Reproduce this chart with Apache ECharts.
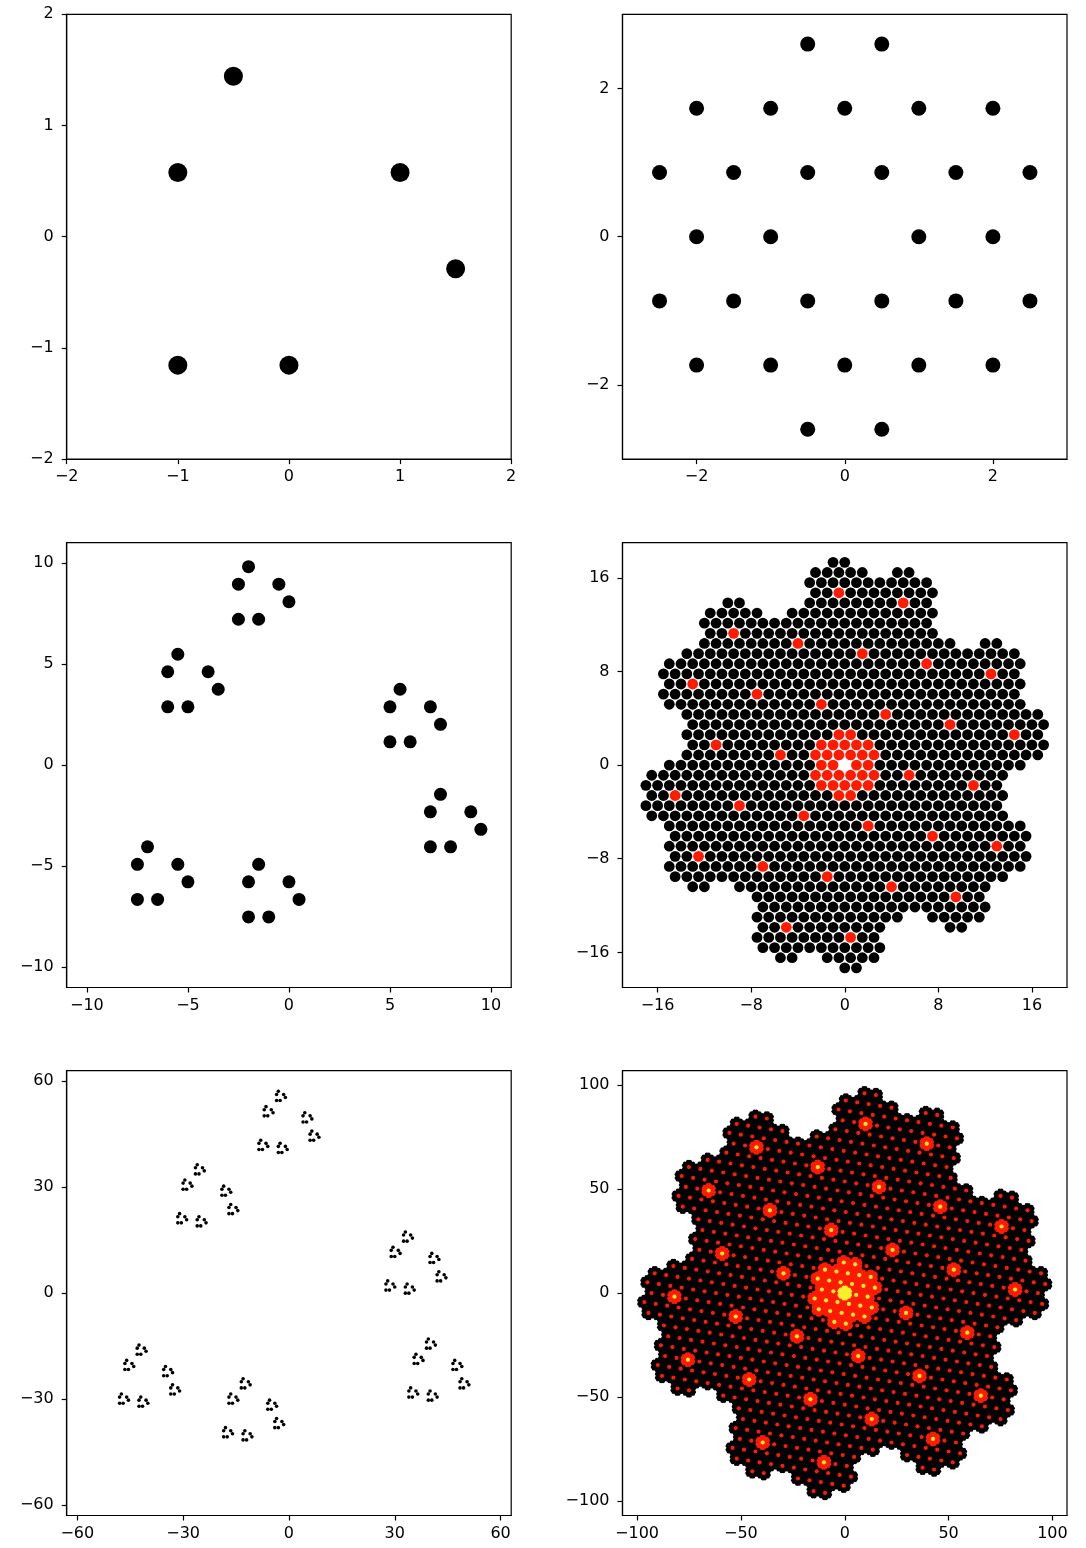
<!DOCTYPE html>
<html>
<head>
<meta charset="utf-8">
<script src="https://cdn.jsdelivr.net/npm/echarts@6/dist/echarts.min.js"></script>
<style>
html,body{margin:0;padding:0;background:#fff;}
#chart{width:1086px;height:1548px;}
</style>
</head>
<body>
<div id="chart"></div>
<script>
// Base pattern
const baseX = [-0.5, -1, 1, 1.5, -1, 0];
const baseY = [1.443, 0.577, 0.577, -0.289, -1.155, -1.155];
// Scale/rotation step between levels, read from cluster offsets (re, im)
const stepFactor = [5.5, -0.866];

// Tick labels per panel
const ticks1 = [-2, -1, 0, 1, 2];
const ticks2 = [-2, 0, 2];
const ticks3 = [-10, -5, 0, 5, 10];
const ticks4 = [-16, -8, 0, 8, 16];
const ticks5 = [-60, -30, 0, 30, 60];
const ticks6 = [-100, -50, 0, 50, 100];
// Axis half-ranges per panel
const halfRanges = [2, 3, 11, 19, 63, 107];

// multiplicity colours
const countColors = {1: '#000000', 6: '#ff1a00', 36: '#f5f028'};

function cmul(a, b) { return [a[0]*b[0] - a[1]*b[1], a[0]*b[1] + a[1]*b[0]]; }
const base = baseX.map((x, i) => [x, baseY[i]]);
function nextLevel(pts, level) {
  let f = [1, 0];
  for (let i = 0; i < level; i++) f = cmul(f, stepFactor);
  const out = [];
  base.forEach(d => {
    const o = cmul(f, d);
    pts.forEach(p => out.push([p[0] + o[0], p[1] + o[1]]));
  });
  return out;
}
const level1 = base.slice();
const level2 = nextLevel(level1, 1);
const level3 = nextLevel(level2, 2);

function differences(pts) {
  const map = new Map();
  for (let i = 0; i < pts.length; i++) {
    for (let j = 0; j < pts.length; j++) {
      if (i === j) continue;
      const dx = pts[i][0] - pts[j][0], dy = pts[i][1] - pts[j][1];
      const key = Math.round(dx * 2) + '_' + Math.round(dy / 0.433);
      let e = map.get(key);
      if (!e) { e = {x: dx, y: dy, c: 0}; map.set(key, e); }
      e.c++;
    }
  }
  const groups = {};
  map.forEach(e => {
    const c = e.c >= 36 ? 36 : (e.c >= 6 ? 6 : 1);
    (groups[c] = groups[c] || []).push([e.x, e.y]);
  });
  return groups;
}
const diff1 = differences(level1);
const diff2 = differences(level2);
const diff3 = differences(level3);

const colLeft = [66.7, 622.5];
const rowTop = [14.3, 542.7, 1070.7];
const boxW = 444.5, boxH = 444.8;
const font = 'DejaVu Sans';
const fmt = v => String(v).replace('-', '\u2212');

const grids = [], xAxes = [], yAxes = [], series = [];
const tickSets = [ticks1, ticks2, ticks3, ticks4, ticks5, ticks6];
for (let k = 0; k < 6; k++) {
  const r = Math.floor(k / 2), c = k % 2;
  grids.push({left: colLeft[c], top: rowTop[r], width: boxW, height: boxH,
    show: true, borderColor: '#000', borderWidth: 1.2, backgroundColor: 'transparent', containLabel: false});
  const h = halfRanges[k];
  const common = {
    type: 'value', gridIndex: k, min: -h, max: h, scale: false,
    splitLine: {show: false},
    axisLine: {show: true, onZero: false, lineStyle: {color: '#000', width: 1.2}},
    axisTick: {show: true, inside: false, length: 5, lineStyle: {color: '#000', width: 1.2}, customValues: tickSets[k]},
    axisLabel: {show: true, color: '#000', fontSize: 16, fontFamily: font, formatter: fmt, customValues: tickSets[k]}
  };
  xAxes.push(Object.assign({}, common, {position: 'bottom',
    axisLabel: Object.assign({}, common.axisLabel, {margin: 10})}));
  yAxes.push(Object.assign({}, common, {position: 'left',
    axisLabel: Object.assign({}, common.axisLabel, {margin: 13})}));
}
function addSeries(k, data, color, size) {
  series.push({type: 'scatter', xAxisIndex: k, yAxisIndex: k, data: data,
    symbol: 'circle', symbolSize: size, itemStyle: {color: color, opacity: 1},
    large: false, progressive: 0, silent: true, animation: false, clip: true});
}
addSeries(0, level1, '#000', 19);
addSeries(2, level2, '#000', 13);
addSeries(4, level3, '#000', 3.6);
const diffs = [diff1, diff2, diff3];
const diffSizes = [[15, 15, 15], [10.8, 10.8, 10.8], [3.8, 4.2, 4.2]];
diffs.forEach((g, i) => {
  [1, 6, 36].forEach((cnt, j) => {
    if (g[cnt]) addSeries(2 * i + 1, g[cnt], countColors[cnt], diffSizes[i][j]);
  });
});

const chart = echarts.init(document.getElementById('chart'), null, {renderer: 'canvas'});
chart.setOption({
  animation: false,
  backgroundColor: '#fff',
  grid: grids, xAxis: xAxes, yAxis: yAxes, series: series
});
</script>
</body>
</html>
